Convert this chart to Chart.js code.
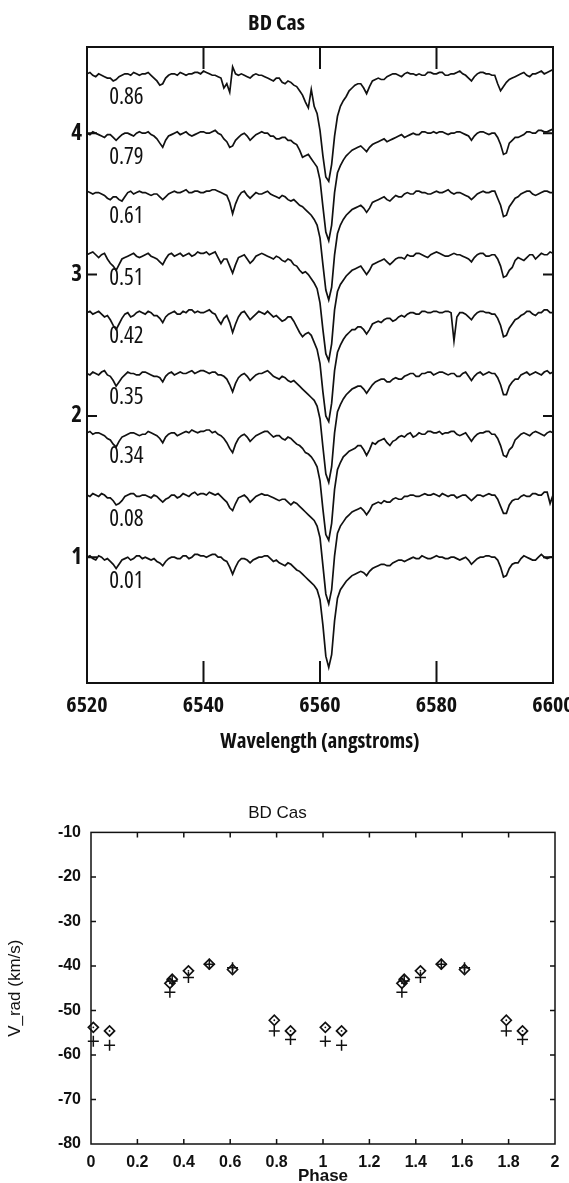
<!DOCTYPE html>
<html>
<head>
<meta charset="utf-8">
<script src="https://cdn.jsdelivr.net/npm/chart.js@4.4.1/dist/chart.umd.min.js"></script>
<style>
  html, body { margin: 0; padding: 0; background: #fff; overflow: hidden; }
  #specChart { position: absolute; left: 0; top: 0; }
  #vradChart { position: absolute; left: 0; top: 770px; }
</style>
</head>
<body>
<canvas id="specChart" width="569" height="760"></canvas>
<canvas id="vradChart" width="569" height="423"></canvas>
<script>
// wavelength grid (angstroms)
const wave = [
  6520,6520.5,6521,6521.5,6522,6522.5,6523,6523.5,6524,6524.5,6525,6525.5,6526,6526.5,6527,6527.5,6528,6528.5,6529,6529.5,
  6530,6530.5,6531,6531.5,6532,6532.5,6533,6533.5,6534,6534.5,6535,6535.5,6536,6536.5,6537,6537.5,6538,6538.5,6539,6539.5,
  6540,6540.5,6541,6541.5,6542,6542.5,6543,6543.5,6544,6544.5,6545,6545.5,6546,6546.5,6547,6547.5,6548,6548.5,6549,6549.5,
  6550,6550.5,6551,6551.5,6552,6552.5,6553,6553.5,6554,6554.5,6555,6555.5,6556,6556.5,6557,6557.5,6558,6558.5,6559,6559.5,
  6560,6560.5,6561,6561.5,6562,6562.5,6563,6563.5,6564,6564.5,6565,6565.5,6566,6566.5,6567,6567.5,6568,6568.5,6569,6569.5,
  6570,6570.5,6571,6571.5,6572,6572.5,6573,6573.5,6574,6574.5,6575,6575.5,6576,6576.5,6577,6577.5,6578,6578.5,6579,6579.5,
  6580,6580.5,6581,6581.5,6582,6582.5,6583,6583.5,6584,6584.5,6585,6585.5,6586,6586.5,6587,6587.5,6588,6588.5,6589,6589.5,
  6590,6590.5,6591,6591.5,6592,6592.5,6593,6593.5,6594,6594.5,6595,6595.5,6596,6596.5,6597,6597.5,6598,6598.5,6599,6599.5,
  6600
];

// normalised flux, one array per phase
const s001 = [
  1.00,1.01,0.99,0.98,1.01,1.00,0.98,0.99,0.97,0.95,0.92,0.95,0.98,0.99,1.00,0.98,0.99,1.01,1.01,0.99,
  1.00,0.99,0.98,0.99,0.97,0.96,0.94,0.97,0.99,1.00,1.00,0.99,0.99,1.01,1.01,0.99,1.00,1.02,1.02,1.01,
  1.01,1.00,1.01,1.02,1.02,1.00,1.00,0.98,0.97,0.93,0.88,0.93,0.97,0.99,0.99,0.98,0.96,0.98,0.99,1.00,
  1.00,1.01,1.01,0.99,0.97,0.98,0.96,0.95,0.94,0.96,0.95,0.93,0.91,0.90,0.88,0.86,0.84,0.82,0.80,0.77,
  0.70,0.52,0.30,0.22,0.31,0.55,0.71,0.77,0.80,0.83,0.85,0.87,0.88,0.89,0.90,0.89,0.87,0.90,0.92,0.93,
  0.94,0.95,0.95,0.94,0.94,0.96,0.97,0.98,0.98,0.97,0.98,0.99,1.00,0.99,0.99,1.01,1.00,0.99,0.99,1.00,
  1.01,1.00,1.00,0.99,0.99,1.00,1.00,0.99,0.98,0.99,1.00,0.98,0.95,0.97,0.99,1.00,1.00,1.01,1.01,1.00,
  1.00,0.98,0.93,0.86,0.87,0.92,0.95,0.96,0.96,0.99,1.01,1.00,0.99,0.98,0.98,1.00,1.02,1.00,0.99,1.00,
  1.00
];
const s008 = [
  1.00,0.99,1.01,1.00,0.99,1.01,1.00,0.98,0.98,0.96,0.93,0.94,0.96,0.99,1.00,1.01,1.01,0.99,0.99,1.00,
  1.00,0.99,0.98,1.00,0.99,0.97,0.95,0.97,0.98,1.00,1.00,0.98,0.99,1.01,1.00,0.99,1.01,1.02,1.00,1.01,
  1.01,1.00,1.02,1.01,1.00,1.01,0.99,0.97,0.95,0.91,0.89,0.94,0.98,0.99,1.00,0.98,0.95,0.97,0.99,1.00,
  1.01,1.00,1.00,0.99,0.98,0.97,0.96,0.97,0.97,0.95,0.93,0.95,0.94,0.92,0.90,0.88,0.86,0.84,0.82,0.78,
  0.70,0.50,0.30,0.23,0.33,0.57,0.73,0.78,0.81,0.84,0.86,0.88,0.89,0.90,0.91,0.89,0.86,0.89,0.93,0.94,
  0.95,0.94,0.96,0.95,0.95,0.97,0.98,0.97,0.97,0.99,0.99,1.00,1.00,0.99,0.99,1.00,1.01,1.00,1.00,1.01,
  1.00,0.99,1.01,1.00,0.99,1.00,1.00,0.98,0.99,1.00,1.00,0.98,0.96,0.98,1.00,1.00,0.99,1.00,1.01,1.00,
  1.00,0.97,0.92,0.87,0.87,0.93,0.96,0.97,0.97,0.99,1.00,0.99,0.99,1.01,1.01,1.00,1.00,1.02,1.02,0.94,
  1.00
];
const s034 = [
  1.00,1.01,0.99,1.00,1.00,0.99,0.98,0.96,0.95,0.92,0.90,0.94,0.97,0.98,0.99,1.00,1.00,0.99,0.98,0.99,
  0.99,1.01,1.00,0.99,0.98,0.96,0.93,0.97,0.99,1.00,1.00,0.98,0.99,1.00,1.01,1.00,1.02,1.01,1.00,1.01,
  1.01,1.02,1.02,1.00,1.01,0.99,0.98,0.96,0.93,0.89,0.86,0.92,0.96,0.98,0.99,0.97,0.94,0.96,0.98,0.99,
  1.00,1.01,1.01,0.99,0.97,0.98,0.98,0.96,0.95,0.97,0.96,0.94,0.92,0.91,0.89,0.86,0.85,0.83,0.80,0.76,
  0.66,0.46,0.28,0.24,0.36,0.60,0.74,0.79,0.83,0.85,0.87,0.88,0.89,0.91,0.91,0.88,0.84,0.88,0.93,0.92,
  0.94,0.95,0.96,0.93,0.91,0.94,0.95,0.97,0.98,0.97,0.99,1.00,0.97,0.98,1.00,0.99,0.99,1.01,1.01,1.00,
  1.00,1.01,0.99,1.00,1.00,1.01,1.01,0.99,0.98,0.99,1.00,0.97,0.94,0.97,0.99,1.00,1.00,1.01,1.01,0.99,
  0.99,0.96,0.91,0.84,0.83,0.88,0.90,0.95,0.97,0.99,1.00,0.99,0.98,1.00,1.01,1.00,0.99,0.98,1.00,1.01,
  1.00
];
const s035 = [
  1.00,0.99,1.01,1.00,0.99,1.01,1.02,0.99,0.98,0.95,0.91,0.94,0.97,0.99,1.01,1.00,1.00,0.99,0.99,1.01,
  1.01,1.00,0.99,0.98,0.98,0.97,0.94,0.98,1.00,1.01,0.99,1.00,1.01,1.00,1.00,1.01,1.02,1.00,1.01,1.02,
  1.02,1.01,1.00,1.01,1.01,0.99,0.99,0.98,0.96,0.92,0.87,0.93,0.97,0.99,1.00,0.98,0.95,0.97,0.99,1.00,
  1.00,1.01,1.02,1.00,0.98,0.97,0.96,0.98,0.97,0.95,0.94,0.95,0.93,0.91,0.89,0.87,0.85,0.83,0.81,0.77,
  0.68,0.48,0.29,0.23,0.34,0.58,0.73,0.78,0.82,0.85,0.87,0.89,0.90,0.91,0.91,0.89,0.86,0.89,0.92,0.94,
  0.95,0.96,0.96,0.94,0.94,0.96,0.97,0.96,0.96,0.98,0.99,1.00,1.00,0.98,0.98,1.00,1.00,1.01,1.01,0.99,
  1.00,1.01,1.01,1.00,0.99,1.00,1.00,0.98,0.98,1.00,1.01,0.98,0.95,0.98,1.00,1.01,0.99,1.00,1.01,1.00,
  1.00,0.97,0.92,0.85,0.85,0.91,0.94,0.96,0.96,0.99,1.00,1.01,0.99,1.00,1.01,1.00,0.99,1.01,1.02,1.00,
  1.01
];
const s042 = [
  1.00,1.01,0.99,1.00,1.01,0.99,0.97,0.98,0.95,0.91,0.88,0.92,0.96,0.99,1.00,0.97,0.98,1.00,1.01,1.00,
  0.99,1.01,1.00,0.98,0.98,0.96,0.93,0.97,0.99,1.00,1.01,0.99,0.99,1.01,1.00,1.02,1.02,1.00,1.01,1.00,
  1.00,1.01,1.02,1.00,0.99,0.95,0.92,0.96,0.98,0.93,0.86,0.92,0.97,1.00,1.01,0.98,0.95,0.97,0.99,1.01,
  1.00,0.99,1.01,0.99,0.97,0.98,0.96,0.94,0.95,0.97,0.97,0.94,0.90,0.86,0.83,0.85,0.86,0.84,0.79,0.74,
  0.64,0.44,0.27,0.23,0.36,0.59,0.72,0.77,0.81,0.84,0.86,0.88,0.88,0.90,0.90,0.88,0.85,0.88,0.92,0.93,
  0.94,0.93,0.95,0.96,0.96,0.94,0.95,0.97,0.98,0.97,0.99,1.00,1.00,0.99,0.99,1.01,1.01,1.00,1.00,1.01,
  1.01,1.00,1.00,1.01,1.01,1.00,0.80,0.97,1.00,1.00,0.99,0.97,0.95,0.98,1.00,1.01,1.01,1.00,1.00,0.99,
  0.99,0.96,0.91,0.83,0.84,0.89,0.92,0.95,0.96,0.98,0.99,1.01,1.01,0.99,0.98,1.00,1.00,1.02,1.02,1.00,
  1.00
];
const s051 = [
  1.00,1.01,1.02,1.00,0.98,1.00,1.01,0.97,0.94,0.92,0.89,0.93,0.97,0.98,0.99,1.00,1.01,0.99,0.98,0.99,
  1.00,1.01,0.99,0.98,0.97,0.95,0.93,0.97,1.00,1.01,0.99,1.00,1.01,0.99,1.00,1.01,0.99,1.00,1.02,1.01,
  1.01,1.02,1.00,1.01,1.02,0.98,0.94,0.97,0.97,0.92,0.87,0.93,0.98,0.99,1.00,0.97,0.94,0.96,0.99,1.00,
  1.01,1.00,0.99,0.98,0.97,0.99,0.98,0.96,0.95,0.97,0.96,0.93,0.92,0.89,0.87,0.88,0.86,0.83,0.80,0.76,
  0.66,0.47,0.30,0.25,0.37,0.61,0.74,0.79,0.82,0.85,0.87,0.89,0.90,0.91,0.92,0.89,0.86,0.89,0.93,0.94,
  0.95,0.96,0.97,0.95,0.93,0.95,0.97,0.98,0.98,0.97,1.00,0.99,0.99,1.01,1.01,1.00,0.99,0.98,1.00,1.01,
  1.02,1.01,1.00,0.99,0.99,1.00,1.01,1.00,1.00,0.99,0.98,0.97,0.95,0.98,1.00,1.01,1.01,0.99,0.99,1.00,
  1.00,0.97,0.92,0.84,0.85,0.89,0.91,0.96,0.98,0.97,0.96,0.98,1.00,1.00,0.97,0.99,1.01,1.00,1.00,1.02,
  1.01
];
const s061 = [
  1.01,1.00,0.99,1.00,1.00,0.99,0.98,0.96,0.95,0.97,0.97,0.95,0.94,0.97,1.00,1.01,0.99,1.00,1.01,1.00,
  1.00,0.99,0.98,0.99,0.99,0.97,0.95,0.97,0.99,1.00,1.01,1.00,1.00,1.01,1.02,1.00,1.00,1.01,1.01,1.00,
  1.00,1.01,1.01,1.02,1.02,1.01,1.00,0.99,0.98,0.93,0.85,0.92,0.97,1.00,1.01,0.98,0.96,0.98,1.00,0.99,
  0.99,1.00,1.01,0.99,0.98,0.97,0.96,0.98,0.97,0.95,0.94,0.95,0.93,0.91,0.90,0.88,0.86,0.84,0.81,0.77,
  0.68,0.49,0.31,0.24,0.33,0.56,0.71,0.77,0.81,0.84,0.86,0.88,0.89,0.90,0.91,0.89,0.86,0.89,0.93,0.94,
  0.95,0.96,0.97,0.95,0.94,0.96,0.98,0.97,0.97,0.99,1.00,0.99,0.99,1.01,1.01,1.00,1.00,0.99,0.99,1.00,
  1.01,1.00,1.00,1.01,1.02,1.00,0.99,1.00,1.00,0.99,0.98,0.97,0.95,0.97,0.99,1.00,1.01,1.00,1.00,1.01,
  1.01,0.96,0.91,0.83,0.84,0.90,0.93,0.96,0.97,0.99,1.00,1.01,1.01,0.99,0.98,0.99,1.00,1.01,1.01,1.00,
  1.00
];
const s079 = [
  1.00,0.99,1.01,1.00,0.99,0.98,0.97,0.99,0.99,0.97,0.95,0.97,0.99,1.00,1.00,0.99,0.98,1.00,1.01,1.00,
  1.00,1.01,0.99,0.98,0.96,0.93,0.90,0.95,0.98,0.99,1.00,1.01,0.99,1.00,1.01,0.99,0.98,0.99,1.00,1.01,
  1.01,1.00,1.00,1.01,1.02,1.00,0.99,0.96,0.94,0.90,0.91,0.95,0.97,0.99,1.00,0.98,0.95,0.97,0.99,1.00,
  1.01,1.00,1.00,0.98,0.98,0.96,0.96,0.97,0.97,0.95,0.95,0.93,0.92,0.88,0.83,0.84,0.85,0.82,0.79,0.76,
  0.67,0.48,0.30,0.24,0.35,0.58,0.72,0.77,0.81,0.84,0.86,0.88,0.89,0.90,0.91,0.89,0.87,0.90,0.92,0.93,
  0.94,0.95,0.96,0.94,0.95,0.96,0.97,0.98,0.99,0.97,0.98,0.99,1.00,0.99,0.99,1.01,1.01,1.00,1.00,1.01,
  1.00,1.01,1.01,1.00,0.99,1.00,1.00,1.01,1.01,1.00,0.99,0.98,0.95,0.98,1.00,1.01,1.01,1.00,0.99,1.00,
  1.00,0.97,0.92,0.85,0.86,0.93,0.95,0.97,0.97,0.98,0.99,1.01,1.01,1.00,1.00,1.02,1.02,1.01,1.01,1.02,
  1.03
];
const s086 = [
  1.00,1.01,0.99,0.98,1.00,0.99,0.98,0.97,0.97,0.95,0.96,0.98,0.99,1.00,1.00,0.99,1.01,1.00,0.99,1.00,
  1.00,1.01,0.99,0.97,0.95,0.92,0.93,0.97,0.99,1.00,1.00,0.99,1.01,1.00,0.99,1.00,1.00,1.01,1.01,1.00,
  1.02,1.01,1.00,0.99,0.99,0.98,0.97,0.90,0.93,0.87,1.05,1.00,0.99,1.00,0.99,0.98,0.97,0.99,1.00,0.99,
  0.99,0.98,0.97,0.96,0.95,0.97,0.97,0.94,0.93,0.95,0.94,0.92,0.91,0.88,0.85,0.80,0.76,0.89,0.77,0.72,
  0.60,0.42,0.27,0.24,0.36,0.56,0.70,0.77,0.81,0.84,0.88,0.90,0.92,0.93,0.93,0.90,0.86,0.91,0.95,0.96,
  0.97,0.96,0.96,0.98,0.99,1.00,1.00,0.99,0.98,1.00,1.01,1.00,1.00,0.99,1.00,0.99,0.99,1.01,1.01,1.00,
  1.00,1.01,1.01,0.99,0.99,1.00,1.00,1.01,1.02,1.00,0.99,0.97,0.95,0.98,1.00,1.01,1.01,1.00,1.00,0.99,
  0.99,0.93,0.88,0.91,0.94,0.96,0.97,0.98,0.99,1.00,1.01,0.99,0.98,1.00,1.00,1.01,1.02,1.00,1.01,1.02,
  1.03
];

const phaseLabels = ["0.01","0.08","0.34","0.35","0.42","0.51","0.61","0.79","0.86"];
const spectra = [s001, s008, s034, s035, s042, s051, s061, s079, s086];
const offsets = [0, 0.44, 0.88, 1.30, 1.73, 2.14, 2.58, 3.00, 3.42];
const waveTicks = [6520, 6540, 6560, 6580, 6600];
const levelTicks = [1, 2, 3, 4];

// radial velocities
const phase = [0.01, 0.08, 0.34, 0.35, 0.42, 0.51, 0.61, 0.79, 0.86];
const vDiamond = [-53.8, -54.6, -43.9, -43.0, -41.1, -39.6, -40.8, -52.2, -54.6];
const vPlus = [-56.9, -57.8, -45.9, -43.4, -42.6, -39.6, -40.4, -54.6, -56.5];
const phaseTicks = [0, 0.2, 0.4, 0.6, 0.8, 1, 1.2, 1.4, 1.6, 1.8, 2];
const vradTicks = [-80, -70, -60, -50, -40, -30, -20, -10];

// condensed face of Open Sans stands in for the plotter lettering
const COND = '"Open Sans", Roboto, sans-serif';
const HELV = '"Liberation Sans", Arial, sans-serif';
const INK = "#111";

const frame = {
  id: "frame",
  afterDatasetsDraw(chart, args, o) {
    const { ctx, chartArea: a, scales: { x, y } } = chart;
    ctx.save();
    ctx.strokeStyle = INK;
    ctx.lineWidth = o.width;
    ctx.strokeRect(a.left, a.top, a.right - a.left, a.bottom - a.top);
    ctx.beginPath();
    o.xTicks.filter(v => v > x.min && v < x.max).forEach(v => {
      const px = x.getPixelForValue(v);
      ctx.moveTo(px, a.top); ctx.lineTo(px, a.top + o.xLen);
      ctx.moveTo(px, a.bottom); ctx.lineTo(px, a.bottom - o.xLen);
    });
    o.yTicks.filter(v => v > y.min && v < y.max).forEach(v => {
      const py = y.getPixelForValue(v);
      ctx.moveTo(a.left, py); ctx.lineTo(a.left + o.yLen, py);
      ctx.moveTo(a.right, py); ctx.lineTo(a.right - o.yLen, py);
    });
    ctx.stroke();
    if (o.labels) {
      ctx.fillStyle = INK;
      ctx.font = o.labelFont;
      ctx.textBaseline = "middle";
      o.labels.forEach((t, k) => {
        ctx.fillText(t, x.getPixelForValue(o.labelX), y.getPixelForValue(offsets[k] + 1 - o.labelDrop));
      });
    }
    ctx.restore();
  }
};

const fixTicks = arr => s => { s.ticks = arr.map(v => ({ value: v })); };
const plain = v => String(v);

new Chart(document.getElementById("specChart"), {
  type: "line",
  data: {
    datasets: spectra.map((flux, k) => ({
      label: phaseLabels[k],
      data: wave.map((w, i) => ({ x: w, y: flux[i] + offsets[k] })),
      borderColor: INK,
      borderWidth: 1.7,
      pointRadius: 0,
      tension: 0,
      fill: false
    }))
  },
  options: {
    responsive: false,
    animation: false,
    events: [],
    layout: { padding: { left: 0, right: 16, top: 0, bottom: 0 } },
    plugins: {
      legend: { display: false },
      tooltip: { enabled: false },
      title: {
        display: true, text: "BD Cas", color: INK,
        font: { family: COND, size: 22, weight: "bold condensed" },
        padding: { top: 11, bottom: 9.6 }
      },
      frame: {
        width: 2, xTicks: waveTicks, yTicks: levelTicks, xLen: 22, yLen: 10,
        labels: phaseLabels, labelX: 6523.8, labelDrop: 0.17,
        labelFont: `condensed 23px ${COND}`
      }
    },
    scales: {
      x: {
        type: "linear", min: 6520, max: 6600,
        afterBuildTicks: fixTicks(waveTicks),
        grid: { display: false, drawTicks: false },
        border: { display: false },
        ticks: { color: INK, padding: 10, maxRotation: 0, autoSkip: false, callback: plain,
                 font: { family: COND, size: 22, weight: "bold condensed" } },
        title: { display: true, text: "Wavelength (angstroms)", color: INK,
                 font: { family: COND, size: 21, weight: "bold condensed" },
                 padding: { top: 0, bottom: 5.5 } },
        afterFit: s => { s.height = 77; s.paddingLeft = 0; s.paddingRight = 0; }
      },
      y: {
        min: 0.11, max: 4.61,
        afterBuildTicks: fixTicks(levelTicks),
        grid: { display: false, drawTicks: false },
        border: { display: false },
        ticks: { color: INK, padding: 5, callback: plain,
                 font: { family: COND, size: 23, weight: "bold condensed" } },
        afterFit: s => { s.width = 87; s.paddingTop = 0; s.paddingBottom = 0; }
      }
    }
  },
  plugins: [frame]
});

const foldX = phase.concat(phase.map(p => p + 1));
const pts = vals => { const v2 = vals.concat(vals); return foldX.map((p, i) => ({ x: p, y: v2[i] })); };

new Chart(document.getElementById("vradChart"), {
  type: "scatter",
  data: {
    datasets: [
      { label: "plus", data: pts(vPlus), pointStyle: "cross", pointRadius: 5.5,
        borderColor: INK, borderWidth: 1.5, clip: false },
      { label: "diamond", data: pts(vDiamond), pointStyle: "rectRot", pointRadius: 5,
        borderColor: INK, backgroundColor: "rgba(0,0,0,0)", borderWidth: 1.7, clip: false },
      { label: "dot", data: pts(vDiamond), pointStyle: "circle", pointRadius: 0.9,
        borderWidth: 0, backgroundColor: INK, clip: false }
    ]
  },
  options: {
    responsive: false,
    animation: false,
    events: [],
    layout: { padding: { left: 0, right: 14, top: 0, bottom: 0 } },
    plugins: {
      legend: { display: false },
      tooltip: { enabled: false },
      title: {
        display: true, text: "BD Cas", color: INK,
        font: { family: HELV, size: 17, weight: "normal" },
        padding: { top: 33, bottom: 9 }
      },
      frame: { width: 1.5, xTicks: phaseTicks, yTicks: vradTicks, xLen: 5, yLen: 5 }
    },
    scales: {
      x: {
        type: "linear", min: 0, max: 2,
        afterBuildTicks: fixTicks(phaseTicks),
        grid: { display: false, drawTicks: false },
        border: { display: false },
        ticks: { color: INK, padding: 9, maxRotation: 0, autoSkip: false, callback: plain,
                 font: { family: HELV, size: 16, weight: "bold" } },
        title: { display: true, text: "Phase", color: INK,
                 font: { family: HELV, size: 17, weight: "bold" },
                 padding: { top: 0, bottom: 6 } },
        afterFit: s => { s.height = 49; s.paddingLeft = 0; s.paddingRight = 0; }
      },
      y: {
        min: -80, max: -10,
        afterBuildTicks: fixTicks(vradTicks),
        grid: { display: false, drawTicks: false },
        border: { display: false },
        ticks: { color: INK, padding: 10, callback: plain,
                 font: { family: HELV, size: 16, weight: "bold" } },
        title: { display: true, text: "V_rad (km/s)", color: INK,
                 font: { family: HELV, size: 17, weight: "normal" },
                 padding: { top: 5, bottom: 0 } },
        afterFit: s => { s.width = 91; s.paddingTop = 0; s.paddingBottom = 0; }
      }
    }
  },
  plugins: [frame]
});
</script>
</body>
</html>
